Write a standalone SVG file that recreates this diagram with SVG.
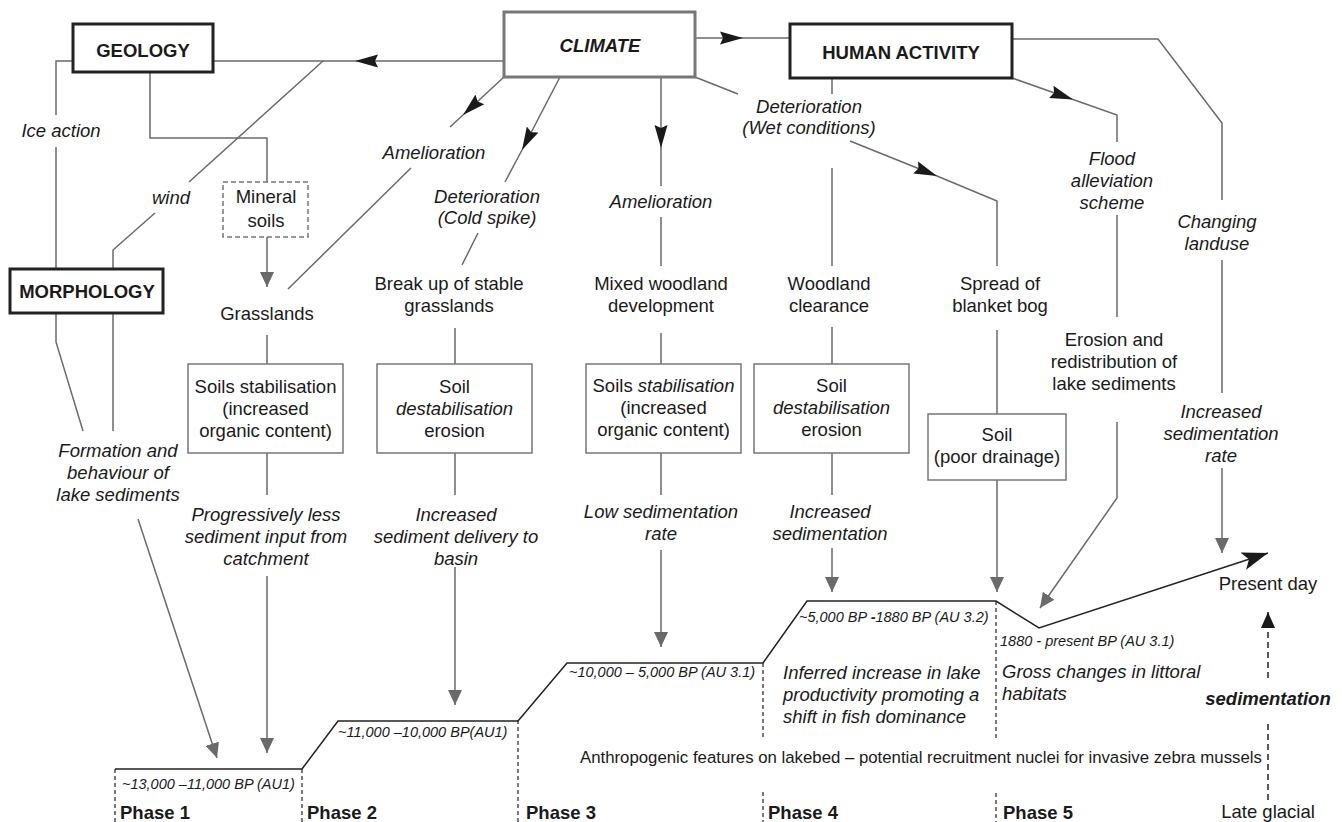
<svg xmlns="http://www.w3.org/2000/svg" width="1342" height="822" viewBox="0 0 1342 822">
<defs>
<style>
text{font-family:"Liberation Sans",Arial,sans-serif;font-size:18.5px;fill:#1a1a1a;text-anchor:middle}
.b{font-weight:bold}
.i{font-style:italic}
.bi{font-weight:bold;font-style:italic}
.d{font-size:14.5px;font-style:italic;text-anchor:start}
.l{text-anchor:start}
.an{font-size:16.8px;text-anchor:start}
.node{fill:#fff;stroke:#222;stroke-width:3}
.clim{fill:#fff;stroke:#777;stroke-width:3}
.box{fill:#fff;stroke:#777;stroke-width:1.5}
.dbox{fill:#fff;stroke:#777;stroke-width:1.5;stroke-dasharray:5 3}
.c{fill:none;stroke:#6a6a6a;stroke-width:1.5}
.t{fill:none;stroke:#222;stroke-width:1.5}
.td{fill:none;stroke:#222;stroke-width:1.2;stroke-dasharray:4 3}
.sd{fill:none;stroke:#222;stroke-width:1.5;stroke-dasharray:6 4}
</style>
<marker id="ab" markerUnits="userSpaceOnUse" markerWidth="24" markerHeight="14" refX="23" refY="7" orient="auto"><path d="M0,0.5 L23,7 L0,13.5 L3,7 Z" fill="#1a1a1a"/></marker>
<marker id="ag" markerUnits="userSpaceOnUse" markerWidth="15" markerHeight="14" refX="15" refY="7" orient="auto"><path d="M0,0 L15,7 L0,14 Z" fill="#6a6a6a"/></marker>
<marker id="ap" markerUnits="userSpaceOnUse" markerWidth="27" markerHeight="18" refX="26" refY="9" orient="auto"><path d="M0,0 L26,9 L0,18 L6,9 Z" fill="#1a1a1a"/></marker>
<marker id="as" markerUnits="userSpaceOnUse" markerWidth="16" markerHeight="14" refX="16" refY="7" orient="auto"><path d="M0,0 L16,7 L0,14 Z" fill="#1a1a1a"/></marker>
</defs>
<rect width="1342" height="822" fill="#fff"/>

<g id="connectors">
<path class="c" d="M73,61 H56 V115 M56,147 V269"/>
<path class="c" d="M504,61 H355" marker-end="url(#ab)"/>
<path class="c" d="M355,61 H213"/>
<path class="c" d="M323,61 L189,182 M155,213 L113,250 V269"/>
<path class="c" d="M150,72 V138 H267 V182"/>
<path class="c" d="M267,237 V287" marker-end="url(#ag)"/>
<path class="c" d="M504,77 L463,115" marker-end="url(#ab)"/>
<path class="c" d="M463,115 L450,127 M411,168 L288,289"/>
<path class="c" d="M560,77 L522,150" marker-end="url(#ab)"/>
<path class="c" d="M522,150 L505,182 M478,233 L462,265"/>
<path class="c" d="M661,77 V148" marker-end="url(#ab)"/>
<path class="c" d="M661,148 V186 M661,217 V266"/>
<path class="c" d="M695,38 H743" marker-end="url(#ab)"/>
<path class="c" d="M743,38 H790"/>
<path class="c" d="M695,77 L738,94 M850,141 L937,176" marker-end="url(#ab)"/>
<path class="c" d="M937,176 L997,201 V266"/>
<path class="c" d="M832,78 V94 M832,168 V266"/>
<path class="c" d="M1012,78 L1073,99.5" marker-end="url(#ab)"/>
<path class="c" d="M1073,99.5 L1117,115 V142 M1117,215 V317"/>
<path class="c" d="M1117,422 V498 L1040,608" marker-end="url(#ag)"/>
<path class="c" d="M1012,39 H1158 L1222,123 V200 M1222,260 V393"/>
<path class="c" d="M1222,468 V553" marker-end="url(#ag)"/>
<path class="c" d="M56,313 V342 L83,431 M113,313 V431"/>
<path class="c" d="M138,519 L217,758" marker-end="url(#ag)"/>
<path class="c" d="M267,335 V364 M267,453 V495"/>
<path class="c" d="M267,576 V753" marker-end="url(#ag)"/>
<path class="c" d="M455,328 V364 M455,453 V495"/>
<path class="c" d="M455,567 V705" marker-end="url(#ag)"/>
<path class="c" d="M661,333 V364 M661,453 V495"/>
<path class="c" d="M661,550 V647" marker-end="url(#ag)"/>
<path class="c" d="M832,327 V364 M832,453 V495"/>
<path class="c" d="M832,548 V592" marker-end="url(#ag)"/>
<path class="c" d="M997,330 V414"/>
<path class="c" d="M997,480 V592" marker-end="url(#ag)"/>
</g>

<g id="edge-labels">
<text class="i" x="61" y="137">Ice action</text>
<text class="i" x="171" y="204">wind</text>
<text class="i" x="434" y="159">Amelioration</text>
<text class="i" x="487" y="203">Deterioration</text>
<text class="i" x="487" y="224">(Cold spike)</text>
<text class="i" x="661" y="208">Amelioration</text>
<text class="i" x="809" y="113">Deterioration</text>
<text class="i" x="809" y="134">(Wet conditions)</text>
<text class="i" x="1112" y="165">Flood</text>
<text class="i" x="1112" y="187">alleviation</text>
<text class="i" x="1112" y="209">scheme</text>
<text class="i" x="1217" y="228">Changing</text>
<text class="i" x="1217" y="250">landuse</text>
<text class="i" x="118" y="457">Formation and</text>
<text class="i" x="118" y="479">behaviour of</text>
<text class="i" x="118" y="501">lake sediments</text>
<text class="i" x="266" y="521">Progressively less</text>
<text class="i" x="266" y="543">sediment input from</text>
<text class="i" x="266" y="565">catchment</text>
<text class="i" x="456" y="521">Increased</text>
<text class="i" x="456" y="543">sediment delivery to</text>
<text class="i" x="456" y="565">basin</text>
<text class="i" x="661" y="518">Low sedimentation</text>
<text class="i" x="661" y="540">rate</text>
<text class="i" x="830" y="518">Increased</text>
<text class="i" x="830" y="540">sedimentation</text>
<text class="i" x="1221" y="418">Increased</text>
<text class="i" x="1221" y="440">sedimentation</text>
<text class="i" x="1221" y="462">rate</text>
</g>

<g id="geology"><rect class="node" x="73" y="24" width="140" height="48"/><text class="b" x="143" y="57">GEOLOGY</text></g>
<g id="climate"><rect class="clim" x="504" y="12" width="191" height="65"/><text class="bi" x="600" y="52">CLIMATE</text></g>
<g id="human-activity"><rect class="node" x="790" y="24" width="222" height="54"/><text class="b" x="901" y="59">HUMAN ACTIVITY</text></g>
<g id="morphology"><rect class="node" x="10" y="269" width="153" height="44"/><text class="b" x="87" y="298">MORPHOLOGY</text></g>
<g id="mineral-soils"><rect class="dbox" x="223" y="182" width="85" height="55"/><text x="266" y="203">Mineral</text><text x="266" y="227">soils</text></g>
<g id="grasslands"><text x="267" y="320">Grasslands</text></g>
<g id="soils-stabilisation-1"><rect class="box" x="188" y="364" width="155" height="89"/><text x="265.5" y="393">Soils stabilisation</text><text x="265.5" y="415">(increased</text><text x="265.5" y="437">organic content)</text></g>
<g id="break-up"><text x="449" y="290">Break up of stable</text><text x="449" y="312">grasslands</text></g>
<g id="soil-destabilisation-1"><rect class="box" x="377" y="364" width="155" height="89"/><text x="454.5" y="393">Soil</text><text class="i" x="454.5" y="415">destabilisation</text><text x="454.5" y="437">erosion</text></g>
<g id="mixed-woodland"><text x="661" y="290">Mixed woodland</text><text x="661" y="312">development</text></g>
<g id="soils-stabilisation-2"><rect class="box" x="586" y="364" width="155" height="89"/><text x="663.5" y="392">Soils <tspan class="i">stabilisation</tspan></text><text x="663.5" y="414">(increased</text><text x="663.5" y="436">organic content)</text></g>
<g id="woodland-clearance"><text x="829" y="290">Woodland</text><text x="829" y="312">clearance</text></g>
<g id="soil-destabilisation-2"><rect class="box" x="754" y="364" width="155" height="89"/><text x="831.5" y="392">Soil</text><text class="i" x="831.5" y="414">destabilisation</text><text x="831.5" y="436">erosion</text></g>
<g id="blanket-bog"><text x="1000" y="290">Spread of</text><text x="1000" y="312">blanket bog</text></g>
<g id="soil-poor-drainage"><rect class="box" x="928" y="414" width="138" height="66"/><text x="997" y="441">Soil</text><text x="997" y="463">(poor drainage)</text></g>
<g id="erosion-redistribution"><text x="1114" y="346">Erosion and</text><text x="1114" y="368">redistribution of</text><text x="1114" y="390">lake sediments</text></g>

<g id="timeline">
<path class="t" d="M115,769 H302 L338,721 H518 L567,663 H763 L807,601 H996 L1039,628 L1268,553" marker-end="url(#ap)"/>
<path class="td" d="M115,769 V822 M302,769 V822 M518,720 V822 M763,663 V737 M763,792 V822 M996,601 V740 M996,793 V822"/>
<path class="sd" d="M1268,800 V722"/>
<path class="sd" d="M1268,678 V612" marker-end="url(#as)"/>
<text class="d" x="122" y="789">~13,000 –11,000 BP (AU1)</text>
<text class="d" x="338" y="737">~11,000 –10,000 BP(AU1)</text>
<text class="d" x="569" y="677">~10,000 – 5,000 BP (AU 3.1)</text>
<text class="d" x="799" y="622">~5,000 BP <tspan font-weight="bold">-</tspan>1880 BP (AU 3.2)</text>
<text class="d" x="1000" y="646">1880 - present BP (AU 3.1)</text>
<text class="i l" x="783" y="679">Inferred increase in lake</text>
<text class="i l" x="783" y="701">productivity promoting a</text>
<text class="i l" x="783" y="723">shift in fish dominance</text>
<text class="i l" x="1002" y="678">Gross changes in littoral</text>
<text class="i l" x="1002" y="700">habitats</text>
<text class="an" x="580" y="763">Anthropogenic features on lakebed – potential recruitment nuclei for invasive zebra mussels</text>
<text x="1268" y="590">Present day</text>
<text class="bi" x="1268" y="705">sedimentation</text>
<text x="1268" y="818">Late glacial</text>
<text class="b l" x="120" y="819">Phase 1</text>
<text class="b l" x="307" y="819">Phase 2</text>
<text class="b l" x="526" y="819">Phase 3</text>
<text class="b l" x="768" y="819">Phase 4</text>
<text class="b l" x="1003" y="819">Phase 5</text>
</g>
</svg>
